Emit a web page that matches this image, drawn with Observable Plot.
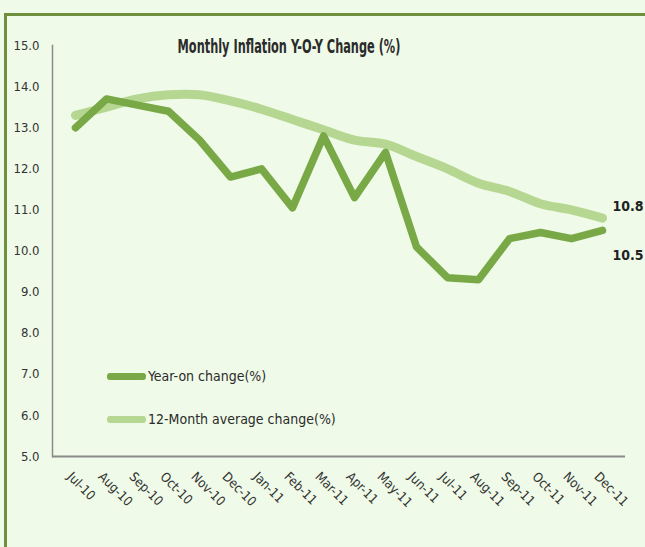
<!DOCTYPE html>
<html>
<head>
<meta charset="utf-8">
<script src="https://cdn.jsdelivr.net/npm/d3@7"></script>
<script src="https://cdn.jsdelivr.net/npm/@observablehq/plot@0.6"></script>
<style>
  html, body { margin: 0; padding: 0; background: #effae8; }
  #wrap { position: relative; width: 645px; height: 547px; overflow: hidden; background: #effae8; }
  #frame { position: absolute; left: 4px; top: 13px; width: 660px; height: 560px;
           border-top: 3px solid #6f8f3c; border-left: 3px solid #6f8f3c; }
  #chart { position: absolute; left: 0; top: 0; }
  #title { position: absolute; left: 0; top: 34px; width: 578px; text-align: center;
           font: bold 20px "DejaVu Sans Condensed", "DejaVu Sans", sans-serif;
           color: #2b2b2b; transform: scaleX(0.63); transform-origin: 289px 50%; white-space: nowrap; }
  .leg { position: absolute; left: 107px; font: 14px "DejaVu Sans Condensed", "DejaVu Sans", sans-serif;
         color: #2b2b2b; display: flex; align-items: center; }
  .sw { display: inline-block; width: 39px; height: 7px; border-radius: 3px; margin-right: 2px; }
</style>
</head>
<body>
<div id="wrap">
  <div id="frame"></div>
  <div id="chart"></div>
  <div id="title">Monthly Inflation Y-O-Y Change (%)</div>
  <div id="legend"></div>
</div>
<script>
const months = ["Jul-10","Aug-10","Sep-10","Oct-10","Nov-10","Dec-10","Jan-11","Feb-11","Mar-11",
                "Apr-11","May-11","Jun-11","Jul-11","Aug-11","Sep-11","Oct-11","Nov-11","Dec-11"];
const yearOn = [13.0, 13.7, 13.55, 13.4, 12.7, 11.8, 12.0, 11.05, 12.8, 11.3, 12.4, 10.1,
                9.35, 9.3, 10.3, 10.45, 10.3, 10.5];
const avg12 = [13.3, 13.5, 13.7, 13.8, 13.8, 13.65, 13.45, 13.2, 12.95, 12.7, 12.6, 12.3,
               12.0, 11.65, 11.45, 11.15, 11.0, 10.8];
const seriesNames = ["Year-on change(%)", "12-Month average change(%)"];
const yTicks = [5, 6, 7, 8, 9, 10, 11, 12, 13, 14, 15];
const colors = ["#79a846", "#b6d791"];

const dark = months.map((m, i) => ({month: m, value: yearOn[i]}));
const light = months.map((m, i) => ({month: m, value: avg12[i]}));

const font = '"DejaVu Sans Condensed", "DejaVu Sans", sans-serif';

const chart = Plot.plot({
  width: 645,
  height: 547,
  marginLeft: 52,
  marginRight: 20,
  marginTop: 45,
  marginBottom: 91,
  style: {background: "transparent", fontFamily: font, fontSize: "13px", color: "#333"},
  x: {type: "point", domain: months, padding: 0.47},
  y: {domain: [5, 15]},
  marks: [
    Plot.frame({anchor: "left", stroke: "#8a8a8a", strokeWidth: 1.5}),
    Plot.axisY({ticks: yTicks, tickFormat: d3.format(".1f"), tickSize: 0, tickPadding: 13,
                label: null, fontSize: 13, fill: "#333"}),
    Plot.axisX({tickSize: 0, tickPadding: 18, tickRotate: 45, label: null, fontSize: 13, dx: -6, fill: "#333"}),
    Plot.ruleY([5], {stroke: "#8a8a8a", strokeWidth: 2}),
    Plot.line(light, {x: "month", y: "value", stroke: colors[1], strokeWidth: 9,
                      curve: "catmull-rom", strokeLinecap: "round", strokeLinejoin: "round"}),
    Plot.line(dark, {x: "month", y: "value", stroke: colors[0], strokeWidth: 7.5,
                     strokeLinecap: "round", strokeLinejoin: "round"}),
    Plot.text([light[light.length - 1]], {x: "month", y: "value", text: d => d3.format(".1f")(d.value),
              textAnchor: "start", dx: 10, dy: -12, fontWeight: "bold", fontSize: 14, fill: "#222"}),
    Plot.text([dark[dark.length - 1]], {x: "month", y: "value", text: d => d3.format(".1f")(d.value),
              textAnchor: "start", dx: 10, dy: 25, fontWeight: "bold", fontSize: 14, fill: "#222"})
  ]
});
document.getElementById("chart").append(chart);

const legend = document.getElementById("legend");
const legTops = [368, 411];
seriesNames.forEach((name, i) => {
  const row = document.createElement("div");
  row.className = "leg";
  row.style.top = legTops[i] + "px";
  const sw = document.createElement("span");
  sw.className = "sw";
  sw.style.background = colors[i];
  row.append(sw, document.createTextNode(name));
  legend.append(row);
});
</script>
</body>
</html>
